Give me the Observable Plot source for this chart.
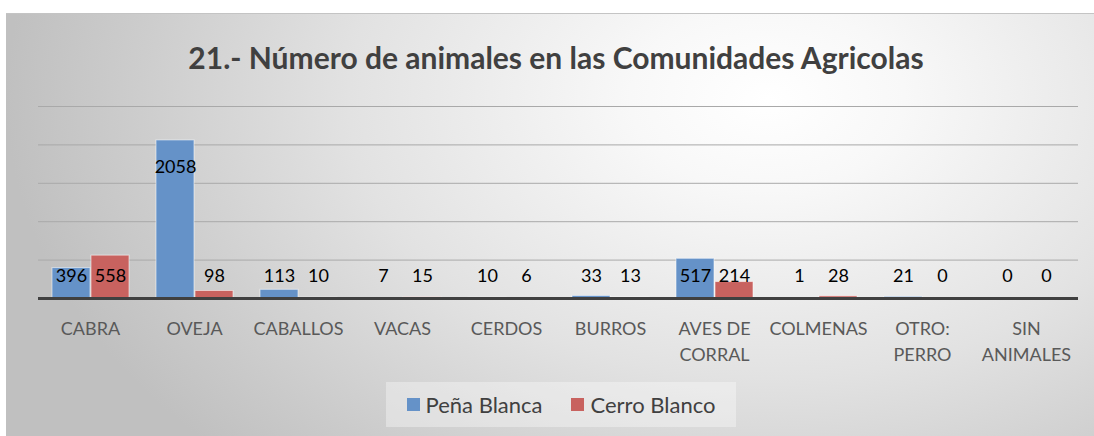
<!DOCTYPE html>
<html><head><meta charset="utf-8">
<script src="https://cdn.jsdelivr.net/npm/d3@7"></script>
<script src="https://cdn.jsdelivr.net/npm/@observablehq/plot@0.6"></script>
<style>
body{margin:0;width:1094px;height:436px;position:relative;overflow:hidden;background:#fff;font-family:Lato,sans-serif}
#frame{position:absolute;left:6px;top:13px;width:1088px;height:423px;
 background:radial-gradient(ellipse 70% 120% at 70% 20%, #ffffff 0%, #f8f8f8 18%, #e2e2e2 55%, #cbcbcb 85%, #c0c0c0 100%);
 border-top:1px solid #c4c4c4}
#title{position:absolute;left:9px;width:1094px;top:39px;text-align:center;font-weight:bold;font-size:30px;color:#404040;line-height:36px}
#chart{position:absolute;left:0;top:0}
#legend{position:absolute;left:386px;top:382px;width:350px;height:45px;background:rgba(255,255,255,0.35);display:flex;align-items:center;justify-content:center;font-size:22px;color:#404040}
.item{display:flex;align-items:center;margin:0 14.5px}
.sw{width:13px;height:13px;margin-right:6px}
</style></head>
<body>
<div id="frame"></div>
<div id="title">21.- Número de animales en las Comunidades Agricolas</div>
<div id="chart"></div>
<div id="legend"></div>
<script>
const categories = ["CABRA","OVEJA","CABALLOS","VACAS","CERDOS","BURROS","AVES DE\nCORRAL","COLMENAS","OTRO:\nPERRO","SIN\nANIMALES"];
const series = ["Peña Blanca","Cerro Blanco"];
const penaBlanca = [396,2058,113,7,10,33,517,1,21,0];
const cerroBlanco = [558,98,10,15,6,13,214,28,0,0];
const colors = ["#6592c8","#c8625f"];
const yTicks = [500,1000,1500,2000,2500];

const data = [];
categories.forEach((c,i)=>{
  data.push({cat:c, series:series[0], value:penaBlanca[i]});
  data.push({cat:c, series:series[1], value:cerroBlanco[i]});
});

const chart = Plot.plot({
  width:1094, height:436,
  marginLeft:37, marginRight:15, marginTop:106, marginBottom:138,
  style:{background:"transparent", fontFamily:"Lato, sans-serif"},
  fx:{domain:categories, padding:0, label:null},
  x:{domain:series, paddingInner:0.03, paddingOuter:0.33, axis:null},
  y:{domain:[0,2500], axis:null},
  color:{domain:series, range:colors},
  marks:[
    Plot.ruleY(yTicks,{stroke:"#a9a9a9", strokeWidth:1}),
    Plot.barY(data,{fx:"cat", x:"series", y:"value", fill:"series", stroke:"rgba(255,255,255,0.55)", strokeWidth:1}),
    Plot.ruleY([0],{stroke:"#404040", strokeWidth:3}),
    Plot.text(data,{fx:"cat", x:"series", y:d=>Math.max(d.value-351,286), text:d=>String(d.value), fontSize:18, fill:"#000"}),
    Plot.axisFx({anchor:"bottom", tickSize:0, tickPadding:18, fontSize:18, lineHeight:1.45, fill:"#595959", label:null})
  ]
});
document.getElementById("chart").appendChild(chart);

const leg = document.getElementById("legend");
series.forEach((s,i)=>{
  const it = document.createElement("div"); it.className="item";
  const sw = document.createElement("div"); sw.className="sw"; sw.style.background=colors[i];
  const t = document.createElement("span"); t.textContent=s;
  it.appendChild(sw); it.appendChild(t); leg.appendChild(it);
});
</script>
</body></html>
